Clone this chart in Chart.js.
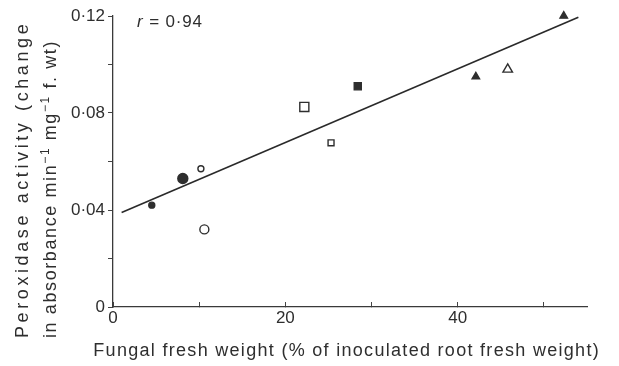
<!DOCTYPE html>
<html>
<head>
<meta charset="utf-8">
<script src="https://cdn.jsdelivr.net/npm/chart.js@4.4.1/dist/chart.umd.min.js"></script>
<style>
  html, body { margin: 0; padding: 0; background: #fff; }
  #wrap { width: 619px; height: 366px; position: relative; }
</style>
</head>
<body>
<div id="wrap"><canvas id="peroxChart"></canvas></div>
<script>
// ===== Data =====
const fungalWeight = [4.5, 8.1, 10.2, 10.6, 22.2, 25.3, 28.4, 42.1, 45.8, 52.3];
const peroxidase   = [0.042, 0.053, 0.057, 0.032, 0.0825, 0.0677, 0.091, 0.095, 0.098, 0.120];

// regression line end points
const fitX = [1, 54];
const fitY = [0.039, 0.1195];

const xTickMarks  = [0, 10, 20, 30, 40, 50];
const xTickValues = [0, 20, 40];
const xTickLabels = ['0', '20', '40'];
const yTickMarks  = [0, 0.02, 0.04, 0.06, 0.08, 0.10, 0.12];
const yTickValues = [0, 0.04, 0.08, 0.12];
const yTickLabels = ['0', '0·04', '0·08', '0·12'];

// marker styles
const markerShapes = ['circle', 'circle', 'circle', 'circle', 'rect', 'rect', 'rect', 'triangle', 'triangle', 'triangle'];
const markerFilled = [true, true, false, false, false, false, true, true, false, true];
const markerRadius = [3, 5, 3, 4.5, 6.4, 4.2, 5, 4.3, 5.5, 4.3];

const ink = '#2e2e2e';
const fontFamily = '"Liberation Sans", Arial, sans-serif';

function labelFor(value, values, labels) {
    const i = values.findIndex(v => Math.abs(v - value) < 1e-9);
    return i >= 0 ? labels[i] : '';
}

// draw a list of text pieces with extra letter spacing, starting at x (left aligned)
function drawPieces(ctx, pieces, x, y, spacing) {
    let cx = x;
    pieces.forEach(p => {
        ctx.font = p.font;
        for (const ch of p.text) {
            ctx.fillText(ch, cx, y - (p.rise || 0));
            cx += ctx.measureText(ch).width + spacing;
        }
    });
    return cx;
}

function piecesWidth(ctx, pieces, spacing) {
    let w = 0;
    pieces.forEach(p => {
        ctx.font = p.font;
        for (const ch of p.text) w += ctx.measureText(ch).width + spacing;
    });
    return w - spacing;
}

// Axis titles and r value
const textPlugin = {
    id: 'texts',
    afterDraw(chart) {
        const ctx = chart.ctx;
        const area = chart.chartArea;
        ctx.save();
        ctx.fillStyle = ink;
        ctx.textAlign = 'left';
        ctx.textBaseline = 'alphabetic';

        // x title
        const big = '18px ' + fontFamily;
        const sup = '12px ' + fontFamily;
        const xTitle = [{ text: 'Fungal fresh weight (% of inoculated root fresh weight)', font: big }];
        const xw = piecesWidth(ctx, xTitle, 1.3);
        drawPieces(ctx, xTitle, (area.left + area.right) / 2 - xw / 2 - 4, 356, 1.3);

        // y title, two lines, rotated
        ctx.save();
        ctx.rotate(-Math.PI / 2);
        const line1 = [{ text: 'Peroxidase activity (change', font: big }];
        const line2 = [
            { text: 'in absorbance min', font: big },
            { text: '−1', font: sup, rise: 7 },
            { text: ' mg', font: big },
            { text: '−1', font: sup, rise: 7 },
            { text: ' f. wt)', font: big }
        ];
        drawPieces(ctx, line1, -338, 28, 3.6);
        drawPieces(ctx, line2, -338, 56, 1.6);
        ctx.restore();

        // r = 0·94
        const rx = drawPieces(ctx, [{ text: 'r', font: 'italic 17px ' + fontFamily }], area.left + 24, area.top + 11, 1);
        drawPieces(ctx, [{ text: ' = 0·94', font: '17px ' + fontFamily }], rx, area.top + 11, 0.8);
        ctx.restore();
    }
};

const ctx = document.getElementById('peroxChart').getContext('2d');

new Chart(ctx, {
    type: 'scatter',
    data: {
        datasets: [{
            label: 'Samples',
            data: fungalWeight.map((x, i) => ({ x: x, y: peroxidase[i] })),
            pointStyle: markerShapes,
            pointRadius: markerRadius,
            pointHoverRadius: markerRadius,
            pointBackgroundColor: markerFilled.map(f => f ? ink : '#fff'),
            pointBorderColor: ink,
            pointBorderWidth: 1.4,
            showLine: false,
            clip: false
        }, {
            label: 'Fit',
            type: 'line',
            data: fitX.map((x, i) => ({ x: x, y: fitY[i] })),
            borderColor: '#2a2a2a',
            borderWidth: 1.6,
            pointRadius: 0,
            fill: false,
            tension: 0,
            clip: false
        }]
    },
    options: {
        responsive: true,
        maintainAspectRatio: false,
        animation: false,
        devicePixelRatio: 1,
        layout: { padding: { top: 16, right: 32, left: 0, bottom: 0 } },
        plugins: {
            legend: { display: false },
            tooltip: { enabled: false }
        },
        scales: {
            x: {
                type: 'linear',
                min: 0,
                max: 55,
                afterBuildTicks: s => { s.ticks = xTickMarks.map(v => ({ value: v })); },
                afterFit: s => { s.height = 59; },
                ticks: {
                    autoSkip: false,
                    maxRotation: 0,
                    padding: 6,
                    color: ink,
                    font: { family: fontFamily, size: 17 },
                    callback: v => labelFor(v, xTickValues, xTickLabels)
                },
                grid: {
                    drawOnChartArea: false,
                    drawTicks: true,
                    tickLength: -5,
                    color: '#444',
                    lineWidth: 1
                },
                border: { color: '#3a3a3a', width: 1.3 }
            },
            y: {
                type: 'linear',
                min: 0,
                max: 0.12,
                afterBuildTicks: s => { s.ticks = yTickMarks.map(v => ({ value: v })); },
                afterFit: s => { s.width = 113; },
                ticks: {
                    autoSkip: false,
                    padding: 3,
                    color: ink,
                    font: { family: fontFamily, size: 17 },
                    callback: v => labelFor(v, yTickValues, yTickLabels)
                },
                grid: {
                    drawOnChartArea: false,
                    drawTicks: true,
                    tickLength: 5,
                    color: '#444',
                    lineWidth: 1
                },
                border: { color: '#3a3a3a', width: 1.3 }
            }
        }
    },
    plugins: [textPlugin]
});
</script>
</body>
</html>
